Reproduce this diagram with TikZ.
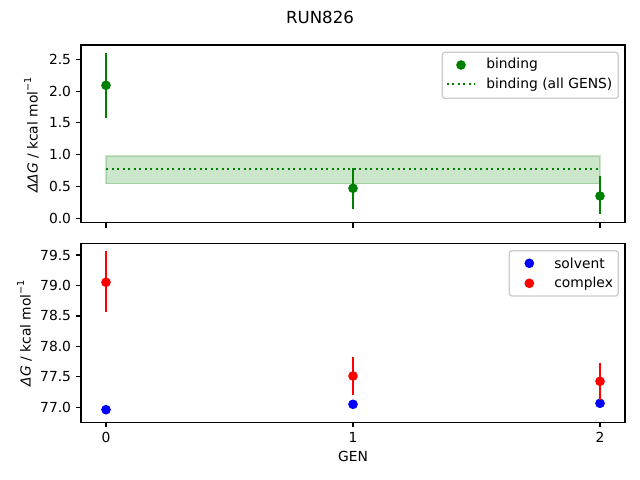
\documentclass[tikz,border=0pt]{standalone}
\usepackage{fontspec}
\setmainfont{DejaVu Sans}
\definecolor{mgreen}{HTML}{008000}
\definecolor{mblue}{HTML}{0000FF}
\definecolor{mred}{HTML}{FF0000}
\definecolor{lgnd}{HTML}{CCCCCC}
\newcommand{\tk}{\fontsize{10}{12}\selectfont}
\newcommand{\supm}{\raisebox{0.85ex}{\fontsize{7}{8}\selectfont −1}}
\begin{document}
\begin{tikzpicture}[x=0.01in,y=-0.01in,
  spine/.style={line width=0.8pt,draw=black},
  tickmark/.style={line width=0.8pt,draw=black},
  ylbl/.style={anchor=east,font=\tk,inner sep=0pt},
  xlbl/.style={anchor=center,font=\tk,inner sep=0pt},
  mdot/.style={circle,inner sep=0pt,minimum size=7pt,fill=#1},
  err/.style={line width=1.5pt,draw=#1},
  legbox/.style={draw=lgnd,fill=white,fill opacity=0.8,rounded corners=2pt,line width=1pt},
  legtxt/.style={anchor=west,font=\tk,inner sep=0pt},
  axlbl/.style={anchor=center,font=\tk,inner sep=0pt,rotate=90},
  mdotted/.style={line width=1.5pt,draw=mgreen,dash pattern=on 1.5pt off 2.475pt}
]
\useasboundingbox (0,0) rectangle (640,480);
% title
\node[font=\fontsize{12}{14}\selectfont,inner sep=0pt] (title) at (320,17) {RUN826};

% ---------- top axes ----------
\fill[mgreen,fill opacity=0.2] (106,156) rectangle (600,183.7);
\draw[mgreen,draw opacity=0.2,line width=1pt] (106,156) rectangle (600,183.7);
\coordinate (dl) at (106,168.7);
\coordinate (dr) at (600,168.7);
\draw[mdotted] (dl) -- (dr);

\coordinate (b0t) at (106,53.3);  \coordinate (b0b) at (106,117.7);
\coordinate (b1t) at (353,168.3); \coordinate (b1b) at (353,209);
\coordinate (b2t) at (600,176);   \coordinate (b2b) at (600,214);
\draw[err=mgreen] (b0t) -- (b0b);
\draw[err=mgreen] (b1t) -- (b1b);
\draw[err=mgreen] (b2t) -- (b2b);
\node[mdot=mgreen] (b0) at (106,85.3) {};
\node[mdot=mgreen] (b1) at (353,188.3) {};
\node[mdot=mgreen] (b2) at (600,196) {};

\draw[spine] (81,45) rectangle (625,222.7);
\foreach \v/\y in {0.0/218.3,0.5/186.5,1.0/154.7,1.5/122.9,2.0/91.1,2.5/59.3}{
  \draw[tickmark] (81,\y) -- (76.14,\y);
  \node[ylbl] at (71.3,\y) {\v};
}
\foreach \x in {106,353,600}{
  \draw[tickmark] (\x,222.7) -- (\x,227.56);
}
\node[axlbl] (tyl) at (31.5,135) {{\itshape ΔΔG} / kcal mol\supm};

% top legend
\draw[legbox] (442.3,52.3) rectangle (618.3,98.3);
\coordinate (leg1) at (530.3,75.3);
\node[mdot=mgreen] (lm1) at (461,65) {};
\node[legtxt] (lt1) at (486,65) {binding};
\coordinate (ll1) at (446.7,84.3);
\coordinate (ll2) at (474.3,84.3);
\draw[mdotted] (ll1) -- (ll2);
\node[legtxt] (lt2) at (486,84.3) {binding (all GENS)};

% ---------- bottom axes ----------
\coordinate (c0t) at (106,251);   \coordinate (c0b) at (106,312.3);
\coordinate (c1t) at (353,356.7); \coordinate (c1b) at (353,394.7);
\coordinate (c2t) at (600,362.7); \coordinate (c2b) at (600,400);
\node[mdot=mblue] (s0) at (106,409.7) {};
\node[mdot=mblue] (s1) at (353,404.3) {};
\node[mdot=mblue] (s2) at (600,403.3) {};
\draw[err=mred] (c0t) -- (c0b);
\draw[err=mred] (c1t) -- (c1b);
\draw[err=mred] (c2t) -- (c2b);
\node[mdot=mred] (c0) at (106,282.3) {};
\node[mdot=mred] (c1) at (353,376) {};
\node[mdot=mred] (c2) at (600,381.3) {};

\draw[spine] (81,243.3) rectangle (625,422.3);
\foreach \v/\y in {77.0/407.3,77.5/376.85,78.0/346.4,78.5/315.95,79.0/285.5,79.5/255.05}{
  \draw[tickmark] (81,\y) -- (76.14,\y);
  \node[ylbl] at (71.3,\y) {\v};
}
\foreach \x/\l in {106/0,353/1,600/2}{
  \draw[tickmark] (\x,422.3) -- (\x,427.16);
  \node[xlbl] at (\x,437.3) {\l};
}
\node[font=\tk,inner sep=0pt] (xl) at (353,456.7) {GEN};
\node[axlbl] (byl) at (24.5,333) {{\itshape ΔG} / kcal mol\supm};

% bottom legend
\draw[legbox] (509.3,250.7) rectangle (618.3,296);
\node[mdot=mblue] (lm2) at (529.3,263.3) {};
\node[legtxt] (lt3) at (554,263.3) {solvent};
\node[mdot=mred] (lm3) at (529.3,283.3) {};
\node[legtxt] (lt4) at (554,283.3) {complex};
\end{tikzpicture}
\end{document}
